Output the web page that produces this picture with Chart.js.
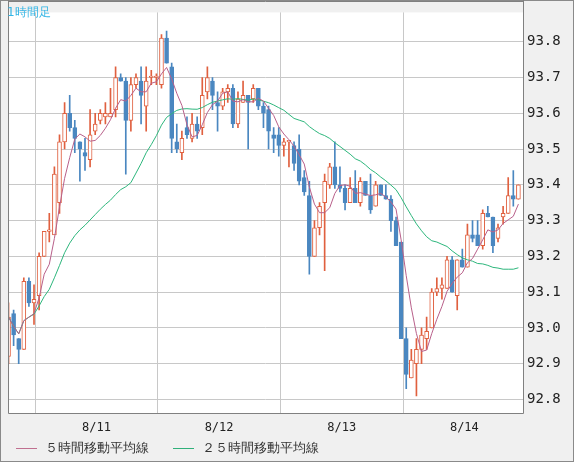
<!DOCTYPE html>
<html>
<head>
<meta charset="utf-8">
<script src="https://cdn.jsdelivr.net/npm/chart.js@4/dist/chart.umd.min.js"></script>
<style>
body{margin:0;background:#fff;}
#wrap{position:relative;width:572px;height:460px;background:#f0f0f0;border:1px solid #8a8a8a;font-family:"DejaVu Sans",sans-serif;}
#box{position:absolute;left:-1px;top:-1px;width:574px;height:440px;}
#title{position:absolute;left:6px;top:3px;font-size:12px;color:#33b5e5;}
.leg{position:absolute;top:438px;font-size:13px;color:#333;}
.leg i{display:inline-block;width:21px;height:1px;vertical-align:middle;margin-right:8px;}
</style>
</head>
<body>
<div id="wrap">
<div id="box"><canvas id="myChart" width="574" height="440"></canvas></div>
<div id="title">1時間足</div>
<div class="leg" style="left:15px"><i style="background:#c07090"></i>５時間移動平均線</div>
<div class="leg" style="left:172px"><i style="background:#30b07a"></i>２５時間移動平均線</div>
</div>
<script>
//Hourly candles (open, high, low, close)
var opens  = [92.92,93.04,92.97,92.94,93.13,93.07,93.09,93.20,93.27,93.26,93.35,93.52,93.60,93.56,93.52,93.49,93.47,93.55,93.58,93.59,
              93.59,93.61,93.70,93.69,93.58,93.68,93.69,93.62,93.70,93.70,93.68,93.81,93.73,93.52,93.49,93.56,93.53,93.57,93.56,93.66,
              93.69,93.63,93.62,93.66,93.67,93.57,93.63,93.65,93.64,93.67,93.62,93.61,93.54,93.54,93.51,93.52,93.51,93.50,93.42,93.37,
              93.20,93.28,93.35,93.40,93.45,93.40,93.39,93.35,93.39,93.35,93.41,93.37,93.34,93.40,93.37,93.36,93.30,93.24,92.97,92.86,
              92.90,92.94,92.97,93.00,93.10,93.11,93.11,93.19,93.09,93.19,93.17,93.26,93.26,93.23,93.32,93.31,93.25,93.31,93.32,93.37,93.36];
var highs  = [93.07,93.05,92.97,93.14,93.14,93.12,93.21,93.27,93.32,93.45,93.54,93.63,93.65,93.58,93.52,93.53,93.61,93.60,93.61,93.63,
              93.67,93.73,93.71,93.70,93.70,93.71,93.73,93.73,93.72,93.71,93.82,93.83,93.74,93.57,93.55,93.59,93.60,93.59,93.70,93.73,
              93.70,93.66,93.67,93.68,93.68,93.66,93.69,93.65,93.68,93.67,93.63,93.62,93.56,93.56,93.53,93.52,93.52,93.54,93.44,93.41,
              93.30,93.35,93.43,93.46,93.52,93.45,93.40,93.42,93.44,93.42,93.41,93.43,93.41,93.40,93.40,93.37,93.31,93.24,93.00,92.94,
              92.97,93.00,93.03,93.11,93.14,93.14,93.20,93.20,93.19,93.22,93.29,93.30,93.30,93.33,93.34,93.31,93.29,93.34,93.42,93.44,93.40];
var lows   = [92.90,92.95,92.90,92.94,93.06,93.01,93.05,93.20,93.24,93.27,93.32,93.50,93.55,93.49,93.41,93.44,93.45,93.54,93.57,93.57,
              93.59,93.59,93.69,93.43,93.55,93.67,93.57,93.55,93.68,93.68,93.67,93.74,93.49,93.49,93.47,93.53,93.52,93.53,93.54,93.64,
              93.61,93.55,93.61,93.63,93.56,93.56,93.63,93.50,93.63,93.61,93.56,93.50,93.49,93.48,93.48,93.45,93.44,93.40,93.37,93.15,
              93.20,93.26,93.16,93.39,93.39,93.38,93.33,93.35,93.35,93.34,93.37,93.32,93.34,93.37,93.36,93.27,93.23,92.97,92.83,92.86,
              92.81,92.90,92.94,93.00,93.09,93.08,93.11,93.10,93.05,93.17,93.17,93.24,93.23,93.22,93.31,93.21,93.24,93.29,93.32,93.34,93.36];
var closes = [93.03,92.98,92.94,93.13,93.07,93.08,93.20,93.27,93.27,93.43,93.52,93.60,93.56,93.53,93.50,93.48,93.54,93.57,93.60,93.60,
              93.60,93.70,93.69,93.58,93.68,93.70,93.65,93.69,93.70,93.70,93.81,93.74,93.53,93.50,93.53,93.54,93.57,93.55,93.65,93.70,
              93.65,93.62,93.66,93.67,93.57,93.64,93.65,93.63,93.67,93.62,93.60,93.55,93.53,93.51,93.52,93.52,93.46,93.41,93.38,93.20,
              93.28,93.34,93.41,93.45,93.40,93.39,93.35,93.39,93.35,93.41,93.37,93.33,93.40,93.37,93.36,93.30,93.23,92.97,92.87,92.91,
              92.94,92.98,92.99,93.10,93.11,93.12,93.19,93.10,93.19,93.17,93.26,93.25,93.23,93.32,93.31,93.23,93.28,93.32,93.37,93.36,93.40];
//X ticks (candle index) and labels
var dayTicks  = [17.25, 41.3, 65.35, 89.4];
var dayLabels = ['8/11', '8/12', '8/13', '8/14'];
var priceTicks = [92.8, 92.9, 93.0, 93.1, 93.2, 93.3, 93.4, 93.5, 93.6, 93.7, 93.8];

var upColor = '#e0603f', downColor = '#4a87c0';

function movingAverage(n) {
    var out = [];
    for (var i = 0; i < closes.length; i++) {
        var from = Math.max(0, i - n + 1), sum = 0;
        for (var j = from; j <= i; j++) sum += closes[j];
        out.push({x: i, y: sum / (i - from + 1)});
    }
    return out;
}

var wicks = [], bodies = [], bodyBg = [], bodyBorder = [], wickColors = [];
for (var i = 0; i < opens.length; i++) {
    var up = closes[i] >= opens[i];
    wicks.push({x: i, y: [lows[i], highs[i]]});
    var lo = Math.min(opens[i], closes[i]), hi = Math.max(opens[i], closes[i]);
    if (hi - lo < 0.004) hi = lo + 0.004;
    bodies.push({x: i, y: [lo, hi]});
    bodyBg.push(up ? '#ffffff' : downColor);
    bodyBorder.push(up ? upColor : downColor);
    wickColors.push(up ? upColor : downColor);
}

var plotBg = {
    id: 'plotBg',
    beforeDraw: function (chart) {
        var a = chart.chartArea, c = chart.ctx;
        c.save();
        c.fillStyle = '#ffffff';
        c.fillRect(a.left, a.top, a.right - a.left, a.bottom - a.top);
        c.restore();
    },
    afterDraw: function (chart) {
        var a = chart.chartArea, c = chart.ctx;
        c.save();
        c.strokeStyle = '#808080';
        c.lineWidth = 1;
        c.beginPath();
        c.moveTo(a.left + 0.5, 0); c.lineTo(a.left + 0.5, a.bottom + 0.5);
        c.lineTo(a.right + 0.5, a.bottom + 0.5); c.lineTo(a.right + 0.5, 0);
        c.moveTo(a.left, 1.5); c.lineTo(a.right, 1.5);
        c.stroke();
        c.restore();
    }
};

new Chart(document.getElementById('myChart'), {
    type: 'bar',
    data: {
        datasets: [
            {type: 'line', data: movingAverage(5), borderColor: '#b8608a', borderWidth: 1, pointRadius: 0, order: 0},
            {type: 'line', data: movingAverage(25), borderColor: '#2db67c', borderWidth: 1, pointRadius: 0, order: 1},
            {data: bodies, backgroundColor: bodyBg, borderColor: bodyBorder, borderWidth: 1, borderSkipped: false, barThickness: 4, grouped: false, order: 2},
            {data: wicks, backgroundColor: wickColors, borderWidth: 0, barThickness: 1, grouped: false, order: 3}
        ]
    },
    options: {
        responsive: false,
        animation: false,
        layout: {padding: {left: 8, top: -8}},
        plugins: {legend: {display: false}, tooltip: {enabled: false}},
        scales: {
            x: {
                type: 'linear', min: -0.1, max: 100.9, offset: false,
                afterBuildTicks: function (s) { s.ticks = dayTicks.map(function (v) { return {value: v}; }); },
                afterFit: function (s) { s.height = 27; },
                grid: {color: '#c8c8c8', drawTicks: false},
                border: {display: false},
                ticks: {padding: 8, color: '#222', font: {family: 'DejaVu Sans Mono', size: 12},
                        callback: function (v, idx) { return dayLabels[idx]; }}
            },
            y: {
                position: 'right', min: 92.762, max: 93.882,
                afterBuildTicks: function (s) { s.ticks = priceTicks.map(function (v) { return {value: v}; }); },
                afterFit: function (s) { s.width = 51; },
                grid: {color: '#c8c8c8', drawTicks: false},
                border: {display: false},
                ticks: {padding: 4, color: '#222', font: {family: 'DejaVu Sans Mono', size: 14},
                        callback: function (v) { return v.toFixed(1); }}
            }
        }
    },
    plugins: [plotBg]
});
</script>
</body>
</html>
